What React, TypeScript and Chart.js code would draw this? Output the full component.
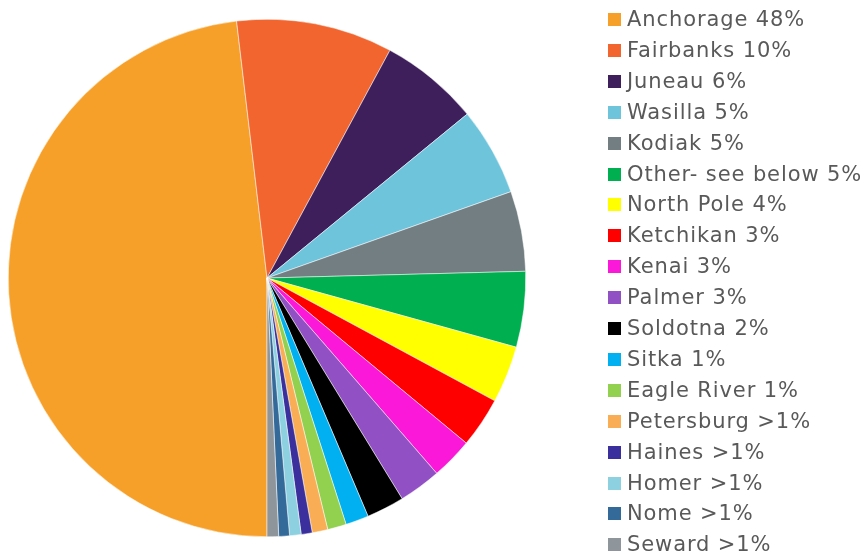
import React, { useEffect, useRef } from "react";
import { Chart, registerables } from "chart.js";

Chart.register(...registerables);

const cities = [
  "Anchorage", "Fairbanks", "Juneau", "Wasilla", "Kodiak", "Other- see below",
  "North Pole", "Ketchikan", "Kenai", "Palmer", "Soldotna", "Sitka",
  "Eagle River", "Petersburg", "Haines", "Homer", "Nome", "Seward",
];

const shareLabels = [
  "48%", "10%", "6%", "5%", "5%", "5%", "4%", "3%", "3%", "3%", "2%", "1%",
  "1%", ">1%", ">1%", ">1%", ">1%", ">1%",
];

const shares = [
  48.1, 9.75, 6.2, 5.5, 5.0, 4.72, 3.56, 3.14, 2.6, 2.64, 2.36, 1.44,
  1.17, 0.97, 0.69, 0.72, 0.67, 0.72,
];

const colors = [
  "#F6A02A", "#F2652F", "#3F1E5C", "#6EC4DB", "#737E83", "#00B050",
  "#FFFF00", "#FF0000", "#FC18D8", "#9150C4", "#000000", "#00B0F0",
  "#92D050", "#F9AE55", "#3A2F9C", "#8DD0E0", "#336A99", "#8E969C",
];

export default function App() {
  const canvasRef = useRef<HTMLCanvasElement | null>(null);

  useEffect(() => {
    const canvas = canvasRef.current;
    if (!canvas) return;
    const chart = new Chart(canvas, {
      type: "pie",
      data: {
        labels: cities.map((c, i) => `${c} ${shareLabels[i]}`),
        datasets: [
          {
            data: shares,
            backgroundColor: colors,
            borderColor: "#ffffff",
            borderWidth: 0.5,
          },
        ],
      },
      options: {
        responsive: false,
        maintainAspectRatio: false,
        animation: false,
        rotation: 180,
        layout: { padding: { left: 8, top: 19, bottom: 19, right: 342 } },
        plugins: {
          legend: { display: false },
          tooltip: { enabled: false },
        },
      },
    });
    return () => chart.destroy();
  }, []);

  return (
    <div style={{ position: "absolute", left: 0, top: 0, width: 868, height: 556, background: "#fff" }}>
      <canvas ref={canvasRef} width={868} height={556} style={{ position: "absolute", left: 0, top: 0 }} />
      <div style={{ position: "absolute", left: 608, top: 0 }}>
        {cities.map((c, i) => (
          <div
            key={c}
            style={{
              position: "absolute",
              left: 0,
              top: 4 + i * 30.9,
              height: 31,
              display: "flex",
              alignItems: "center",
              whiteSpace: "nowrap",
              fontFamily: "'DejaVu Sans', sans-serif",
              fontSize: 21,
              letterSpacing: 0.9,
              lineHeight: "31px",
              color: "#595959",
            }}
          >
            <span style={{ display: "inline-block", width: 13, height: 13, background: colors[i], marginRight: 6 }} />
            <span>{`${c} ${shareLabels[i]}`}</span>
          </div>
        ))}
      </div>
    </div>
  );
}
